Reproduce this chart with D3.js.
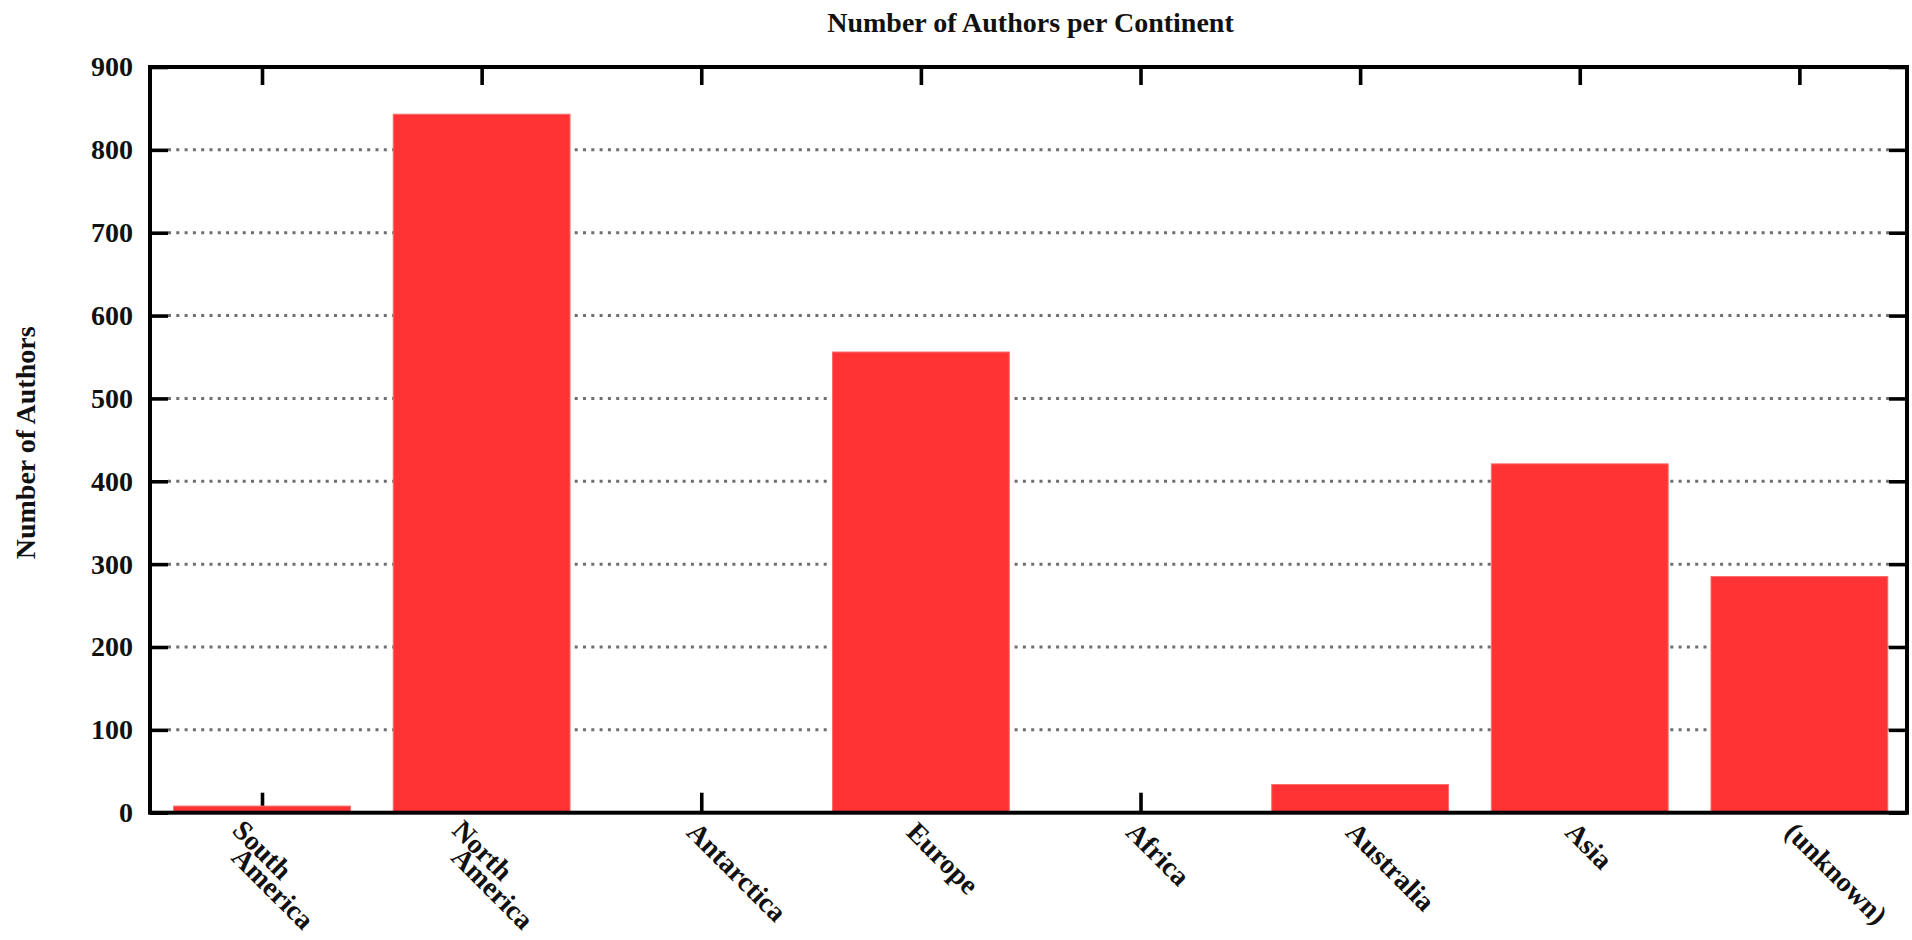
<!DOCTYPE html>
<html>
<head>
<meta charset="utf-8">
<script src="https://cdn.jsdelivr.net/npm/d3@7"></script>
<style>
  html, body { margin: 0; padding: 0; background: #fff; }
  svg { display: block; }
  text { font-family: "Liberation Serif", "Times New Roman", serif; font-weight: bold; fill: #111; }
</style>
</head>
<body>
<script>
// ---- data ----
const categories = ["South\nAmerica", "North\nAmerica", "Antarctica", "Europe", "Africa", "Australia", "Asia", "(unknown)"];
const authors = [8, 843, 0, 556, 0, 34, 421, 285];
const yTicks = [0, 100, 200, 300, 400, 500, 600, 700, 800, 900];
const chartTitle = "Number of Authors per Continent";
const yTitle = "Number of Authors";

// ---- layout ----
const W = 1912, H = 940;
const mLeft = 150, mRight = 1907, mTop = 67, mBottom = 812.7;
const tickLen = 18;

const svg = d3.select("body").append("svg").attr("width", W).attr("height", H);

const x = d3.scaleLinear().domain([-0.51, categories.length - 0.51]).range([mLeft, mRight]);
const y = d3.scaleLinear().domain([0, 900]).range([mBottom, mTop]);
const step = x(1) - x(0);
const barW = step * 0.805;

// gridlines
svg.append("g").selectAll("line").data(yTicks.filter(d => d > 0 && d < 900)).join("line")
  .attr("x1", mLeft + tickLen).attr("x2", mRight - tickLen)
  .attr("y1", d => y(d)).attr("y2", d => y(d))
  .attr("stroke", "#6e6e6e").attr("stroke-width", 3)
  .attr("stroke-dasharray", "3,5.3");

// axes (ticks)
const idx = d3.range(categories.length);
const styleAxis = g => {
  g.select(".domain").remove();
  g.selectAll(".tick line").attr("stroke", "#000").attr("stroke-width", 3.6);
};
svg.append("g").attr("transform", `translate(${mLeft},0)`)
  .call(d3.axisLeft(y).tickValues(yTicks).tickSize(-tickLen).tickPadding(17))
  .call(styleAxis)
  .call(g => g.selectAll(".tick text").attr("font-size", 28).attr("fill", "#111")
    .attr("font-family", "Liberation Serif").attr("font-weight", "bold"));
svg.append("g").attr("transform", `translate(${mRight},0)`)
  .call(d3.axisRight(y).tickValues(yTicks).tickSize(-tickLen).tickFormat(""))
  .call(styleAxis);
svg.append("g").attr("transform", `translate(0,${mBottom})`)
  .call(d3.axisBottom(x).tickValues(idx).tickSize(-tickLen - 2).tickFormat(""))
  .call(styleAxis);
svg.append("g").attr("transform", `translate(0,${mTop})`)
  .call(d3.axisTop(x).tickValues(idx).tickSize(-tickLen).tickFormat(""))
  .call(styleAxis);

// bars
svg.append("g").selectAll("rect").data(authors).join("rect")
  .attr("x", (d, i) => x(i) - barW / 2)
  .attr("width", barW)
  .attr("y", d => y(d))
  .attr("height", d => y(0) - y(d))
  .attr("fill", "#ff3333")
  .attr("stroke", "#ff6b6b").attr("stroke-width", 1);

// frame
svg.append("rect")
  .attr("x", mLeft).attr("y", mTop)
  .attr("width", mRight - mLeft).attr("height", mBottom - mTop)
  .attr("fill", "none").attr("stroke", "#000").attr("stroke-width", 4);

// x labels (rotated 45deg)
const xl = svg.append("g");
categories.forEach((c, i) => {
  const lines = c.split("\n");
  lines.forEach((ln, j) => {
    const ox = lines.length > 1 ? x(i) - 31 - j : x(i) - 16;
    const oy = lines.length > 1 ? mBottom + 19 + 27 * j : mBottom + 21;
    xl.append("text")
      .attr("transform", `translate(${ox},${oy}) rotate(45)`)
      .attr("font-size", 28)
      .attr("text-anchor", "start")
      .text(ln);
  });
});

// title
svg.append("text")
  .attr("x", (mLeft + mRight) / 2 + 2).attr("y", 31.5)
  .attr("text-anchor", "middle").attr("font-size", 28)
  .text(chartTitle);

// y title
svg.append("text")
  .attr("transform", `translate(35,${(mTop + mBottom) / 2 + 3}) rotate(-90)`)
  .attr("text-anchor", "middle").attr("font-size", 28)
  .text(yTitle);
</script>
</body>
</html>
